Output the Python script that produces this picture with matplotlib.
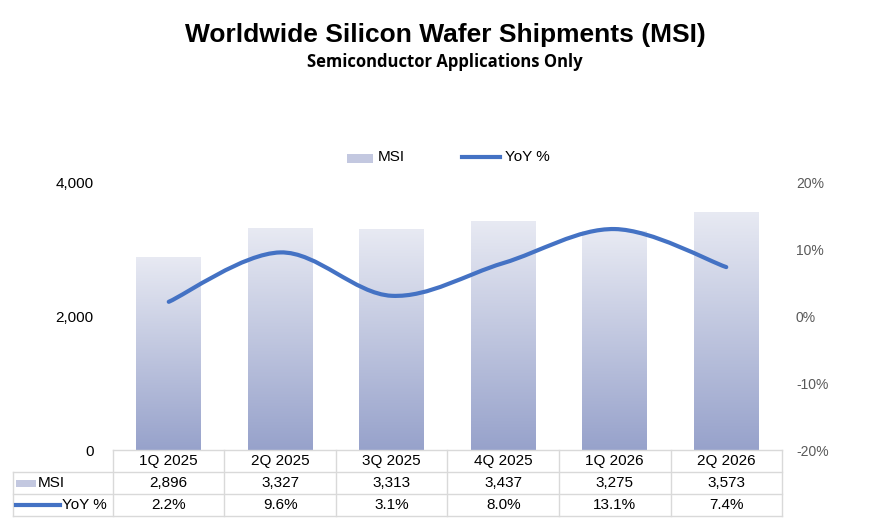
import numpy as np
import matplotlib
matplotlib.use("Agg")
import matplotlib.pyplot as plt
from matplotlib.path import Path
from matplotlib.patches import PathPatch, Rectangle
from matplotlib.lines import Line2D

# data
quarters = ["1Q 2025", "2Q 2025", "3Q 2025", "4Q 2025", "1Q 2026", "2Q 2026"]
msi = [2896, 3327, 3313, 3437, 3275, 3573]
yoy = [2.2, 9.6, 3.1, 8.0, 13.1, 7.4]

W, H = 890, 527
fig = plt.figure(figsize=(W / 100, H / 100), dpi=100)
plt.rcParams['font.family'] = ['Liberation Sans', 'DejaVu Sans']

def fx(px):
    return px / W

def fy(py):
    return 1 - py / H

x0, x1, ytop, ybot = 113, 782, 183, 450
ax = fig.add_axes([fx(x0), fy(ybot), fx(x1) - fx(x0), fy(ytop) - fy(ybot)])
n = len(quarters)
x = np.arange(n)
ax.set_xlim(-0.5, n - 0.5)
ax.set_ylim(0, 4000)
ax.set_yticks([0, 2000, 4000])
ax.set_yticklabels(["0", "2,000", "4,000"], fontsize=11)
ax.set_xticks([])
for s in ax.spines.values():
    s.set_visible(False)
ax.tick_params(axis='y', length=0, pad=14)

# gradient bars
grad = np.linspace(0, 1, 256).reshape(-1, 1)
cmap = matplotlib.colors.LinearSegmentedColormap.from_list("g", ["#97a2cb", "#e8eaf3"])
bw = 0.58
for xi, v in zip(x, msi):
    r = Rectangle((xi - bw / 2, 0), bw, v, facecolor="none", edgecolor="none")
    ax.add_patch(r)
    im = ax.imshow(grad, cmap=cmap, extent=(xi - bw / 2, xi + bw / 2, 0, v),
                   origin='lower', aspect='auto', zorder=1)
    im.set_clip_path(r)
ax.set_xlim(-0.5, n - 0.5)
ax.set_ylim(0, 4000)

# smooth yoy line on right axis
ax2 = ax.twinx()
ax2.set_ylim(-20, 20)
ax2.set_yticks([-20, -10, 0, 10, 20])
ax2.set_yticklabels(["-20%", "-10%", "0%", "10%", "20%"], fontsize=10, color="#595959")
ax2.tick_params(axis='y', length=0, pad=10)
for s in ax2.spines.values():
    s.set_visible(False)
pts = np.column_stack([x, yoy]).astype(float)
verts = [pts[0]]
codes = [Path.MOVETO]
for i in range(n - 1):
    p0 = pts[max(i - 1, 0)]
    p1, p2 = pts[i], pts[i + 1]
    p3 = pts[min(i + 2, n - 1)]
    c1 = p1 + (p2 - p0) / 6
    c2 = p2 - (p3 - p1) / 6
    verts += [c1, c2, p2]
    codes += [Path.CURVE4] * 3
ax2.add_patch(PathPatch(Path(verts, codes), facecolor="none", edgecolor="#4472c4",
                        lw=3, capstyle='round', zorder=3))

# titles
fig.text(0.5, fy(35), "Worldwide Silicon Wafer Shipments (MSI)", ha='center', va='center',
         fontsize=19, fontweight='bold')
fig.text(0.5, fy(62), "Semiconductor Applications Only", ha='center', va='center',
         fontsize=12, fontweight='bold', family=['Open Sans', 'DejaVu Sans'])

# legend
fig.patches.append(Rectangle((fx(347), fy(163)), fx(26), 9 / H, transform=fig.transFigure,
                             facecolor="#c3c8e0", edgecolor="none"))
fig.text(fx(378), fy(157), "MSI", va='center', fontsize=11)
fig.lines.append(Line2D([fx(462), fx(500)], [fy(157)] * 2, transform=fig.transFigure,
                        color="#4472c4", lw=3))
fig.text(fx(505), fy(157), "YoY %", va='center', fontsize=11)

# data table
gc = "#d9d9d9"
cw = (x1 - x0) / n
rows = [450, 472, 494, 516]
def hline(y, xa, xb):
    fig.lines.append(Line2D([fx(xa), fx(xb)], [fy(y)] * 2, transform=fig.transFigure, color=gc, lw=1))
def vline(xp, ya, yb):
    fig.lines.append(Line2D([fx(xp)] * 2, [fy(ya), fy(yb)], transform=fig.transFigure, color=gc, lw=1))
hline(450, x0, x1)
for y in rows[1:]:
    hline(y, 13, x1)
vline(13, 472, 516)
for i in range(n + 1):
    vline(x0 + i * cw, 450, 516)
for i, q in enumerate(quarters):
    cx = x0 + (i + 0.5) * cw
    fig.text(fx(cx), fy(461), q, ha='center', va='center', fontsize=11)
    fig.text(fx(cx), fy(483), f"{msi[i]:,}", ha='center', va='center', fontsize=11)
    fig.text(fx(cx), fy(505), f"{yoy[i]:.1f}%", ha='center', va='center', fontsize=11)
fig.patches.append(Rectangle((fx(16), fy(487)), fx(20), 7 / H, transform=fig.transFigure,
                             facecolor="#c3c8e0", edgecolor="none"))
fig.text(fx(38), fy(483), "MSI", va='center', fontsize=11)
fig.lines.append(Line2D([fx(16), fx(60)], [fy(505)] * 2, transform=fig.transFigure,
                        color="#4472c4", lw=3))
fig.text(fx(62), fy(505), "YoY %", va='center', fontsize=11)

fig.savefig("out.png", dpi=100)
